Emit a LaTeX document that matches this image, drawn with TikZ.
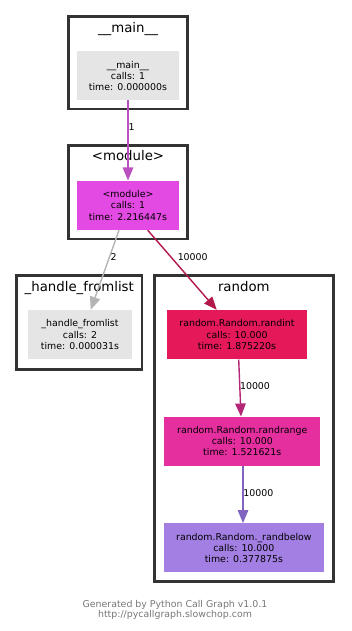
\documentclass[tikz,border=0pt]{standalone}
\usepackage{fontspec}
\setmainfont{DejaVu Sans}
\usetikzlibrary{arrows.meta,calc}

\definecolor{clusterline}{HTML}{333333}
\definecolor{idlefill}{HTML}{E5E5E5}
\definecolor{modfill}{HTML}{E34AE3}
\definecolor{randintfill}{HTML}{E5195A}
\definecolor{randrangefill}{HTML}{E52F9F}
\definecolor{randbelowfill}{HTML}{A37FE3}
\definecolor{edgemain}{HTML}{BA50C0}
\definecolor{edgegray}{HTML}{B4B4B4}
\definecolor{edgeint}{HTML}{B3184A}
\definecolor{edgerange}{HTML}{B42676}
\definecolor{edgebelow}{HTML}{8064C0}
\definecolor{footergray}{HTML}{777777}

\begin{document}
\begin{tikzpicture}[x=1pt,y=-1pt,
  cluster/.style={draw=clusterline, line width=2.6pt, inner sep=0pt},
  fn/.style={rectangle, inner sep=0pt, align=center,
    font=\fontsize{9.4}{11.2}\selectfont},
  grouptitle/.style={anchor=base, inner sep=0pt,
    font=\fontsize{13.3}{16}\selectfont},
  lbl/.style={inner sep=0pt, font=\fontsize{9.4}{11}\selectfont},
  call/.style={line width=1.4pt, -{Triangle[length=13pt,width=10.5pt]}},
  footer/.style={anchor=base, inner sep=0pt, text=footergray,
    font=\fontsize{9.4}{11}\selectfont},
]
\useasboundingbox (0,0) rectangle (351,631);

% group frames
\node[cluster, minimum width=118.6pt, minimum height=92.3pt] (gmain) at (128,62.85) {};
\node[cluster, minimum width=118.6pt, minimum height=93.3pt] (gmodule) at (128,192.35) {};
\node[cluster, minimum width=125.3pt, minimum height=94pt] (ghandle) at (79.35,322.3) {};
\node[cluster, minimum width=179pt, minimum height=306pt] (grandom) at (243.8,428.3) {};

\node[grouptitle] (tmain) at (128,32.3) {\_\_main\_\_};
\node[grouptitle] (tmodule) at (128,160.7) {<module>};
\node[grouptitle] (thandle) at (79.3,291.7) {\_handle\_fromlist};
\node[grouptitle] (trandom) at (243.8,291.7) {random};

% functions
\node[fn, fill=idlefill, minimum width=101.4pt, minimum height=48.7pt] (main) at (128,75.7)
  {\_\_main\_\_\\calls: 1\\time: 0.000000s};
\node[fn, fill=modfill, minimum width=101.4pt, minimum height=49.3pt] (module) at (128,205.35)
  {<module>\\calls: 1\\time: 2.216447s};
\node[fn, fill=idlefill, minimum width=104pt, minimum height=49.3pt] (handle) at (80,334.65)
  {\_handle\_fromlist\\calls: 2\\time: 0.000031s};
\node[fn, fill=randintfill, minimum width=140pt, minimum height=49.3pt] (randint) at (237,334.65)
  {random.Random.randint\\calls: 10.000\\time: 1.875220s};
\node[fn, fill=randrangefill, minimum width=156pt, minimum height=49pt] (randrange) at (242.3,441.2)
  {random.Random.randrange\\calls: 10.000\\time: 1.521621s};
\node[fn, fill=randbelowfill, minimum width=159.7pt, minimum height=49pt] (randbelow) at (243.85,547.8)
  {random.Random.\_randbelow\\calls: 10.000\\time: 0.377875s};

% calls
\draw[call, draw=edgemain, fill=edgemain] (main.south) -- (module.north);
\draw[call, draw=edgegray, fill=edgegray] ($(module.south)+(-9,0)$) -- ($(handle.north)+(10.7,0)$);
\draw[call, draw=edgeint, fill=edgeint] ($(module.south)+(19.7,0)$) -- ($(randint.north)+(-20.3,0)$);
\draw[call, draw=edgerange, fill=edgerange] ($(randint.south)+(1.7,0)$) -- ($(randrange.north)+(-1.3,0)$);
\draw[call, draw=edgebelow, fill=edgebelow] ($(randrange.south)+(0.7,0)$) -- ($(randbelow.north)+(-0.85,0)$);

% call counts
\node[lbl] (l1) at (131.7,127.3) {1};
\node[lbl] (l2) at (113.7,257.3) {2};
\node[lbl] (l3) at (192.7,257.3) {10000};
\node[lbl] (l4) at (255,386.3) {10000};
\node[lbl] (l5) at (258.3,493.3) {10000};

% footer
\node[footer] (f1) at (175,607) {Generated by Python Call Graph v1.0.1};
\node[footer] (f2) at (175,617) {http://pycallgraph.slowchop.com};
\end{tikzpicture}
\end{document}
